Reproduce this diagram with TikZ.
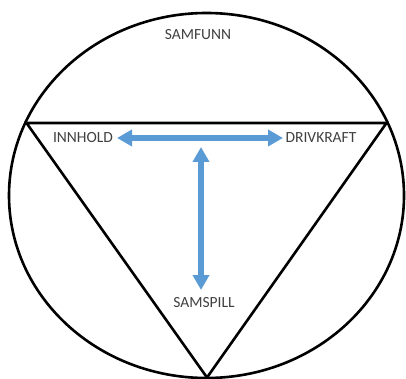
\documentclass[tikz,border=0pt]{standalone}
\usepackage{fontspec}
\setmainfont{Carlito}
\usetikzlibrary{arrows.meta}
\definecolor{arrowblue}{HTML}{5B9BD5}
\definecolor{txt}{HTML}{404040}
\tikzset{
  lbl/.style={text=txt, font=\fontsize{15.5}{17}\selectfont, inner sep=0pt},
  outline/.style={draw=black, line width=2.6pt},
  fatarrow/.style={draw=arrowblue, line width=5.5pt,
    {Triangle[length=15pt,width=16pt]}-{Triangle[length=15pt,width=16pt]}}
}
\begin{document}
\begin{tikzpicture}[x=1pt,y=-1pt]
\useasboundingbox (0,0) rectangle (406,379);
\draw[outline] (206.5,195.5) ellipse [x radius=197.5, y radius=182.5];
\coordinate (tl) at (26.5,123);
\coordinate (tr) at (386.5,123);
\coordinate (bt) at (207,377.5);
\draw[outline, line join=miter] (tl) -- (tr) -- (bt) -- cycle;
\node[lbl] (samfunn) at (198,35) {SAMFUNN};
\node[lbl] (innhold) at (83,138) {INNHOLD};
\node[lbl] (drivkraft) at (321,138) {DRIVKRAFT};
\node[lbl] (samspill) at (204,303) {SAMSPILL};
\coordinate (hl) at (117,138);
\coordinate (hr) at (283,138);
\coordinate (vt) at (201,147);
\coordinate (vb) at (201,290);
\draw[fatarrow] (hl) -- (hr);
\draw[fatarrow] (vt) -- (vb);
\end{tikzpicture}
\end{document}
